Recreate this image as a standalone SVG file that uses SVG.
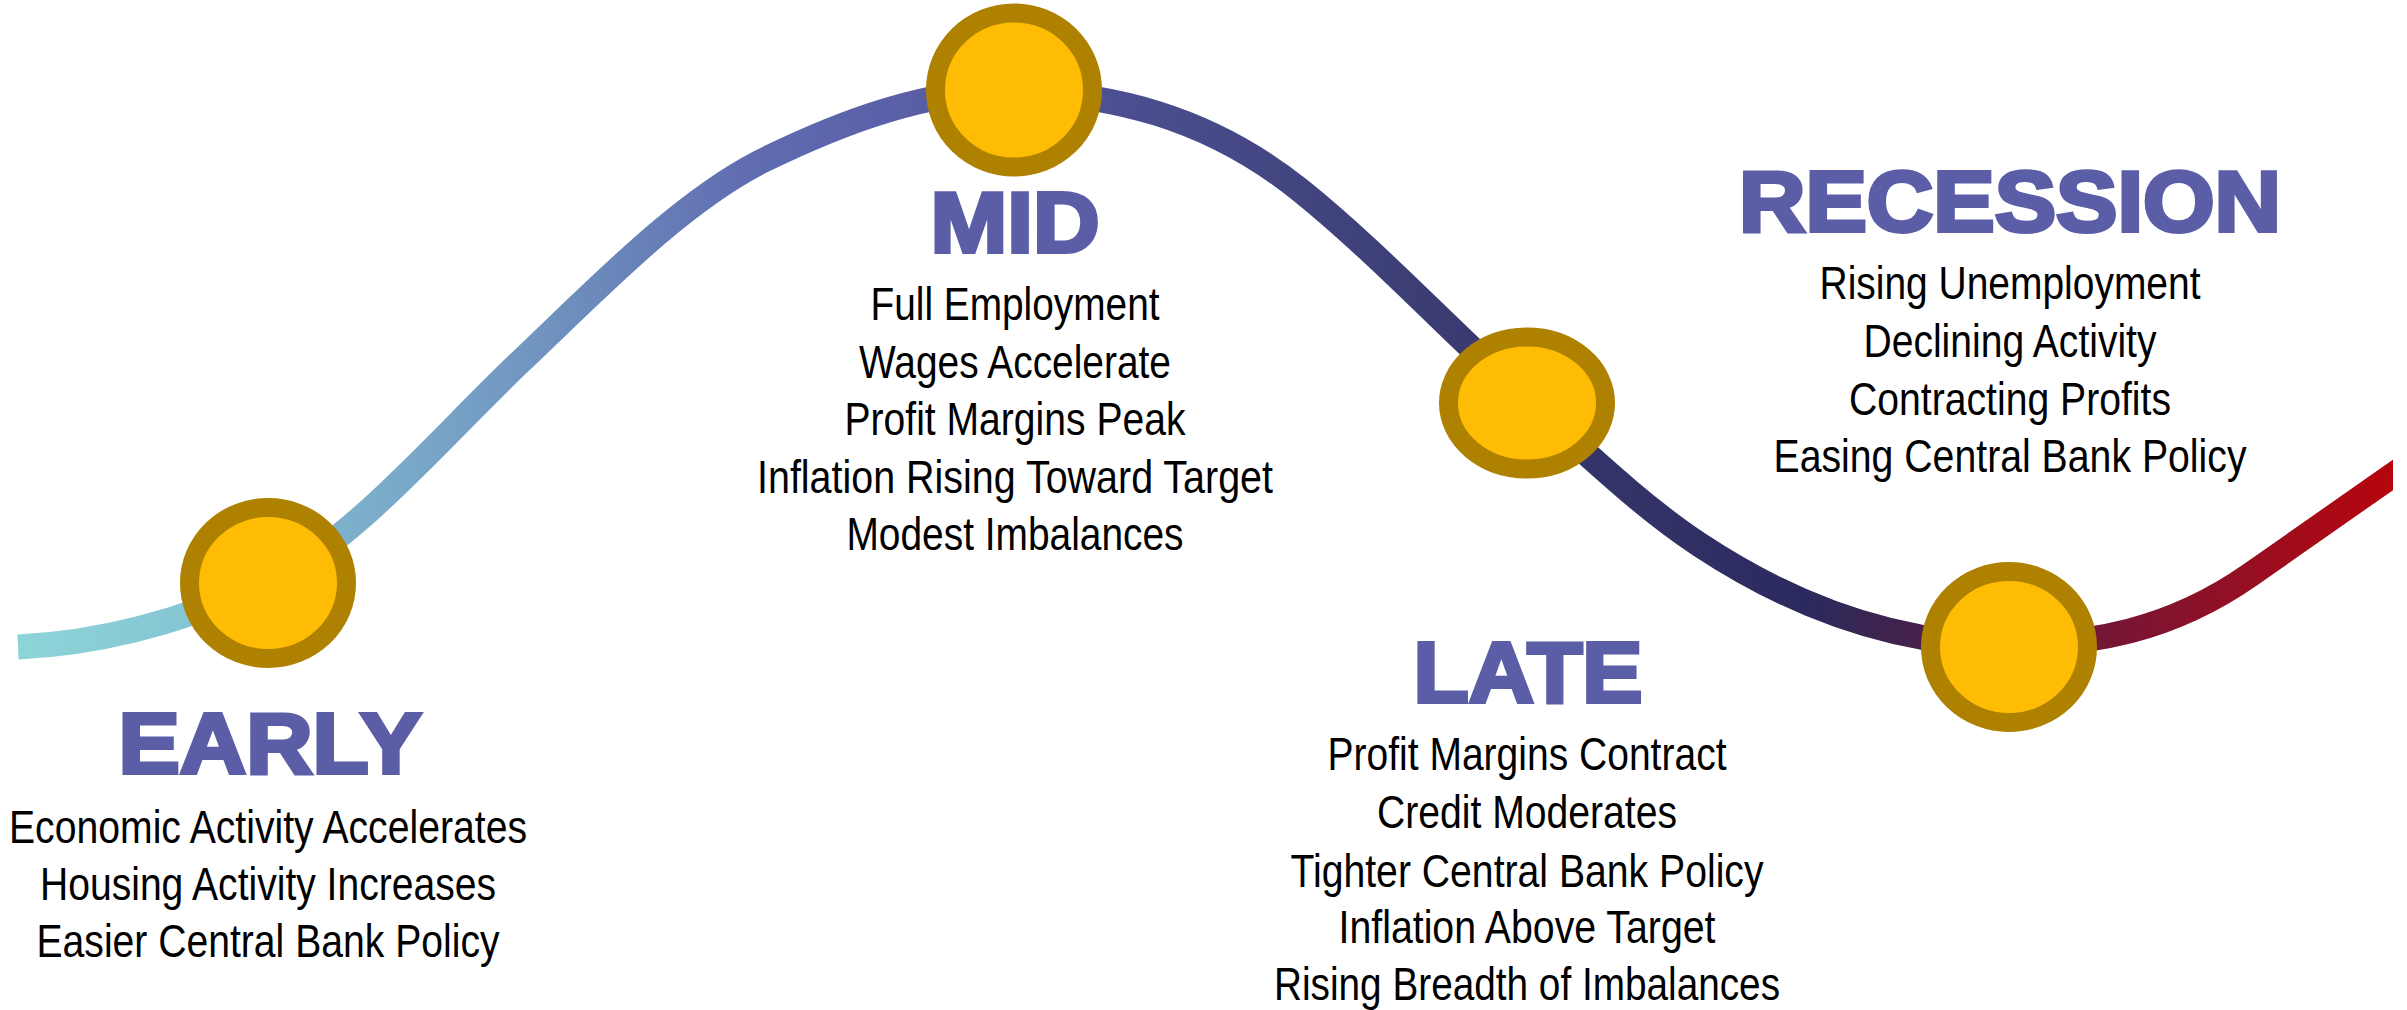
<svg xmlns="http://www.w3.org/2000/svg" width="2407" height="1010" viewBox="0 0 2407 1010">
  <defs>
    <linearGradient id="curveGrad" gradientUnits="userSpaceOnUse" x1="0" y1="0" x2="2407" y2="0">
      <stop offset="0" stop-color="#8ED6D9"/>
      <stop offset="0.075" stop-color="#86C6D3"/>
      <stop offset="0.17" stop-color="#79A8C8"/>
      <stop offset="0.22" stop-color="#7196C0"/>
      <stop offset="0.31" stop-color="#606DB1"/>
      <stop offset="0.375" stop-color="#5A5FA8"/>
      <stop offset="0.46" stop-color="#4D5091"/>
      <stop offset="0.6" stop-color="#3A3C72"/>
      <stop offset="0.75" stop-color="#2B2A5E"/>
      <stop offset="0.78" stop-color="#3C2550"/>
      <stop offset="0.8" stop-color="#46214A"/>
      <stop offset="0.87" stop-color="#721636"/>
      <stop offset="0.935" stop-color="#970F22"/>
      <stop offset="1" stop-color="#BA040A"/>
    </linearGradient>
    <clipPath id="endClip">
      <rect x="0" y="0" width="2393" height="1010"/>
    </clipPath>
    <style>
      .ring { fill: #FFBC05; stroke: #AF8100; stroke-width: 19; }
      .title { font-family: "Liberation Sans", Arial, sans-serif; font-weight: bold; font-size: 86px; fill: #5B5EA6; stroke: #5B5EA6; stroke-width: 4; stroke-linejoin: miter; text-anchor: middle; }
      .body { font-family: "Liberation Sans", Arial, sans-serif; font-size: 47px; fill: #000000; text-anchor: middle; }
      .curve { fill: none; stroke: url(#curveGrad); stroke-width: 25; stroke-linecap: butt; }
    </style>
  </defs>
  <rect x="0" y="0" width="2407" height="1010" fill="#FFFFFF"/>

  <g id="connectors" clip-path="url(#endClip)">
    <path class="curve" d="M 18 647 C 101 643, 185 621, 268 582 C 352 543, 436 442, 520 362 C 600 286, 680 203, 760 162 C 845 120, 929 90, 1014 90 C 1109 95, 1205 114, 1300 190 C 1376 251, 1451 332, 1527 400 C 1585 452, 1642 507, 1700 545 C 1803 613, 1906 645, 2009 645 C 2089 645, 2170 631, 2250 575 C 2300 540, 2350 505, 2400 470"/>
  </g>

  <g id="node-early">
    <ellipse class="ring" cx="268" cy="583" rx="78.5" ry="75.5"/>
    <text class="title" x="270" y="773" textLength="303" lengthAdjust="spacingAndGlyphs">EARLY</text>
    <text class="body" x="268" y="843" font-size="48" textLength="518" lengthAdjust="spacingAndGlyphs">Economic Activity Accelerates</text>
    <text class="body" x="268" y="900" font-size="48" textLength="456" lengthAdjust="spacingAndGlyphs">Housing Activity Increases</text>
    <text class="body" x="268" y="957" font-size="48" textLength="463" lengthAdjust="spacingAndGlyphs">Easier Central Bank Policy</text>
  </g>

  <g id="node-mid">
    <ellipse class="ring" cx="1014" cy="90" rx="78.5" ry="77"/>
    <text class="title" x="1015" y="252" textLength="169" lengthAdjust="spacingAndGlyphs">MID</text>
    <text class="body" x="1015" y="320" textLength="289" lengthAdjust="spacingAndGlyphs">Full Employment</text>
    <text class="body" x="1015" y="378" textLength="312" lengthAdjust="spacingAndGlyphs">Wages Accelerate</text>
    <text class="body" x="1015" y="435" textLength="341" lengthAdjust="spacingAndGlyphs">Profit Margins Peak</text>
    <text class="body" x="1015" y="493" textLength="516" lengthAdjust="spacingAndGlyphs">Inflation Rising Toward Target</text>
    <text class="body" x="1015" y="550" textLength="337" lengthAdjust="spacingAndGlyphs">Modest Imbalances</text>
  </g>

  <g id="node-late">
    <ellipse class="ring" cx="1527" cy="403" rx="78.5" ry="66"/>
    <text class="title" x="1528" y="702" textLength="229" lengthAdjust="spacingAndGlyphs">LATE</text>
    <text class="body" x="1527" y="770" textLength="399" lengthAdjust="spacingAndGlyphs">Profit Margins Contract</text>
    <text class="body" x="1527" y="828" textLength="300" lengthAdjust="spacingAndGlyphs">Credit Moderates</text>
    <text class="body" x="1527" y="887" textLength="473" lengthAdjust="spacingAndGlyphs">Tighter Central Bank Policy</text>
    <text class="body" x="1527" y="943" textLength="377" lengthAdjust="spacingAndGlyphs">Inflation Above Target</text>
    <text class="body" x="1527" y="1000" textLength="506" lengthAdjust="spacingAndGlyphs">Rising Breadth of Imbalances</text>
  </g>

  <g id="node-recession">
    <ellipse class="ring" cx="2009" cy="647" rx="78.5" ry="75.5"/>
    <text class="title" x="2010" y="231" textLength="542" lengthAdjust="spacingAndGlyphs">RECESSION</text>
    <text class="body" x="2010" y="299" textLength="381" lengthAdjust="spacingAndGlyphs">Rising Unemployment</text>
    <text class="body" x="2010" y="357" textLength="293" lengthAdjust="spacingAndGlyphs">Declining Activity</text>
    <text class="body" x="2010" y="415" textLength="322" lengthAdjust="spacingAndGlyphs">Contracting Profits</text>
    <text class="body" x="2010" y="472" textLength="473" lengthAdjust="spacingAndGlyphs">Easing Central Bank Policy</text>
  </g>
</svg>
